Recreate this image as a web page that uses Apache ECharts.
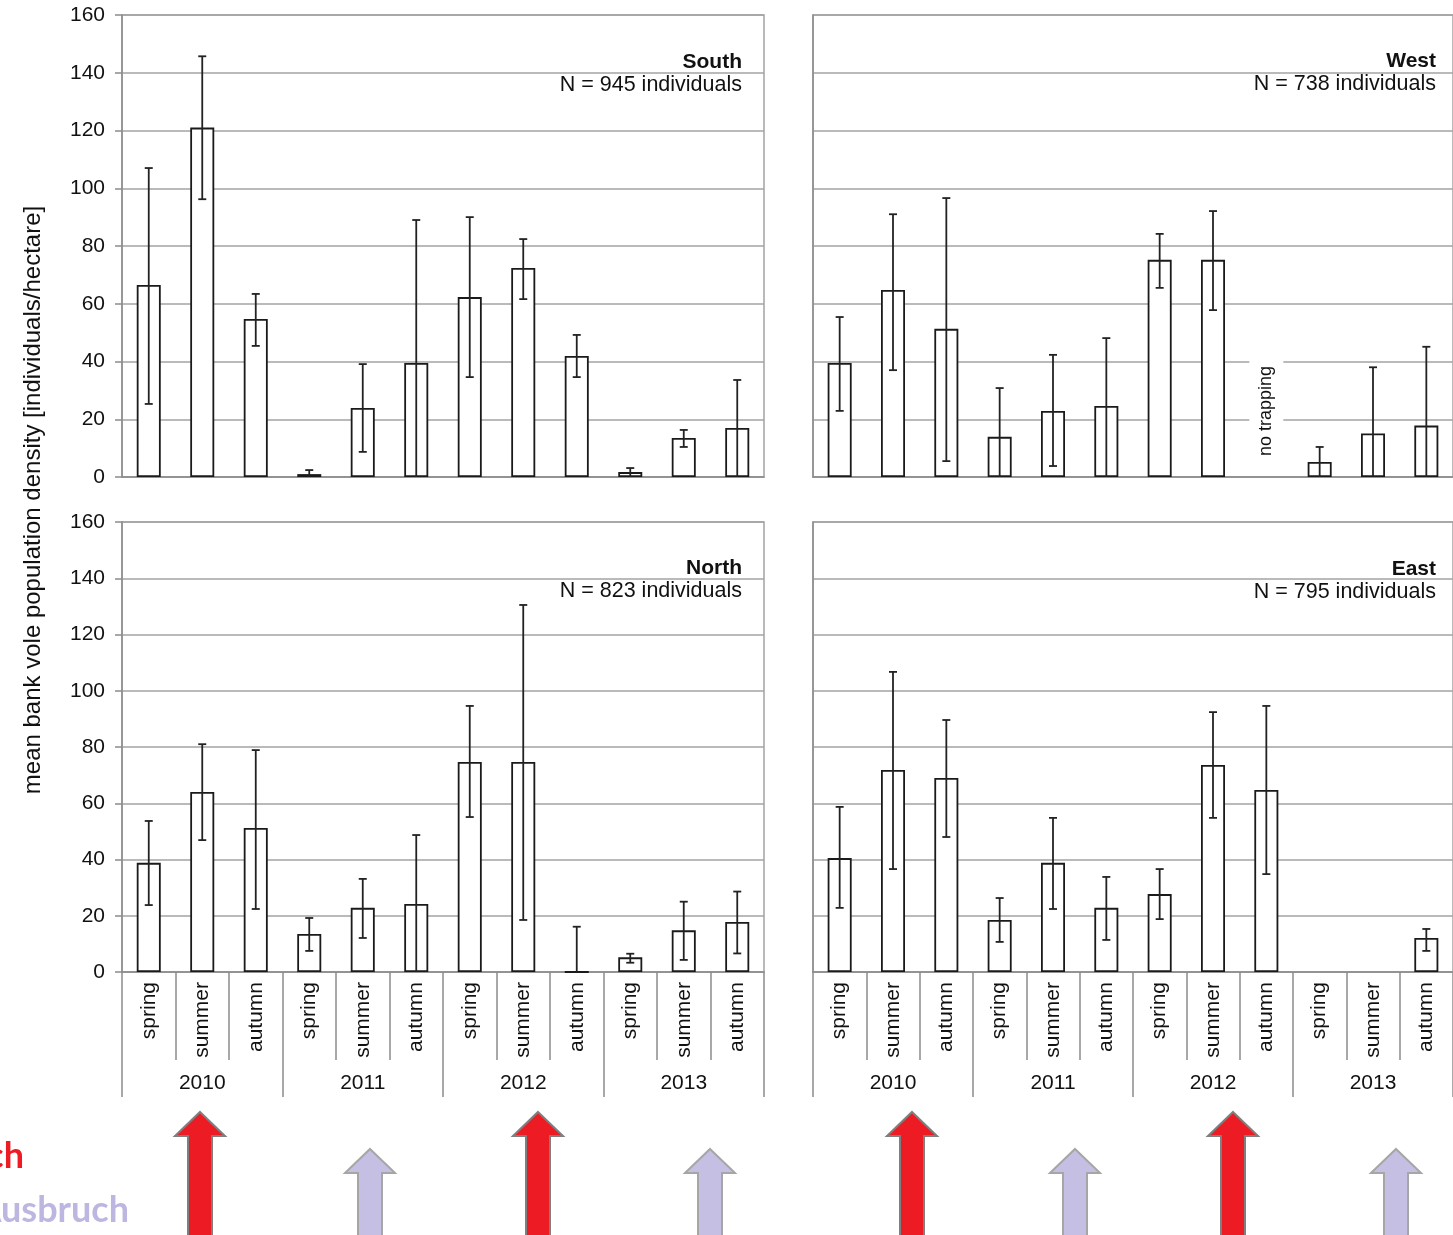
<!DOCTYPE html>
<html>
<head>
<meta charset="utf-8">
<script src="https://cdn.jsdelivr.net/npm/echarts@6/dist/echarts.min.js"></script>
<style>
  html, body { margin: 0; padding: 0; background: #fff; }
  #chart { width: 1453px; height: 1235px; }
</style>
</head>
<body>
<div id="chart"></div>
<script>
// ---- data ----
const seasons = ['spring', 'summer', 'autumn'];
const years = ['2010', '2011', '2012', '2013'];
const categories = years.flatMap(() => seasons);
const yMin = 0, yMax = 160, yStep = 20;

// South
const southMean = [66.5, 121, 54.7, 1.0, 23.9, 39.5, 62.3, 72.4, 41.9, 1.7, 13.5, 17.0];
const southLow  = [25.3, 96.2, 45.4, 0, 8.7, 0, 34.6, 61.6, 34.6, 0, 10.4, 0];
const southHigh = [107, 145.7, 63.4, 2.4, 39.1, 89, 90, 82.4, 49.2, 3.1, 16.3, 33.6];
// West (autumn 2012: no trapping)
const westMean = [39.5, 64.8, 51.3, 13.9, 22.9, 24.6, 75.2, 75.2, null, 5.2, 15.1, 17.8];
const westLow  = [22.9, 37, 5.5, 0, 3.8, 0, 65.5, 57.8, null, 0, 0, 0];
const westHigh = [55.4, 91, 96.6, 30.8, 42.3, 48.1, 84.2, 92.1, null, 10.4, 38, 45.1];
// North
const northMean = [38.8, 64, 51.2, 13.5, 22.8, 24.2, 74.7, 74.7, 0, 5.2, 14.8, 17.8];
const northLow  = [23.8, 46.9, 22.4, 7.5, 12.1, 0, 55.1, 18.5, 0, 3.3, 4.3, 6.6];
const northHigh = [53.7, 81, 78.9, 19.2, 33.1, 48.7, 94.6, 130.5, 16.1, 6.5, 25, 28.6];
// East
const eastMean = [40.5, 71.8, 69, 18.5, 38.8, 22.8, 27.7, 73.6, 64.7, null, null, 12.1];
const eastLow  = [22.8, 36.6, 48, 10.7, 22.4, 11.4, 18.8, 54.8, 34.8, null, null, 7.5];
const eastHigh = [58.7, 106.7, 89.6, 26.3, 54.8, 33.8, 36.6, 92.4, 94.6, null, null, 15.3];

const sites = ['South', 'West', 'North', 'East'];
const individuals = [945, 738, 823, 795];
const outbreakYears = [true, false, true, false];
const noTrappingAt = { site: 'West', index: 8, value: 21.5 };

const yTitle = 'mean bank vole population density [individuals/hectare]';
const legendOutbreak = 'Ausbruch';
const legendNoOutbreak = 'kein Ausbruch';

// ---- layout / style ----
const FONT = "'Liberation Sans', Arial, sans-serif";
const AXIS_GRAY = '#8c8c8c';
const GRID_GRAY = '#a3a3a3';
const TEXT = '#111111';

const panels = [
  { mean: southMean, low: southLow, high: southHigh, box: { left: 122, top: 15, width: 642, height: 462 }, bottom: false, yLabels: true, titleX: 742, titleY: 62 },
  { mean: westMean,  low: westLow,  high: westHigh,  box: { left: 813, top: 15, width: 642, height: 462 }, bottom: false, yLabels: false, titleX: 1436, titleY: 61 },
  { mean: northMean, low: northLow, high: northHigh, box: { left: 122, top: 522, width: 642, height: 450 }, bottom: true, yLabels: true, titleX: 742, titleY: 568 },
  { mean: eastMean,  low: eastLow,  high: eastHigh,  box: { left: 813, top: 522, width: 642, height: 450 }, bottom: true, yLabels: false, titleX: 1436, titleY: 569 }
];

const grid = [], xAxis = [], yAxis = [], series = [], graphic = [];

panels.forEach((p, i) => {
  grid.push(Object.assign({ show: true, borderColor: GRID_GRAY, borderWidth: 1.5, backgroundColor: 'transparent' }, p.box));

  const seasonAxis = xAxis.length;
  xAxis.push({
    type: 'category', gridIndex: i, data: categories, boundaryGap: true, position: 'bottom',
    axisLine: { show: true, lineStyle: { color: AXIS_GRAY, width: 1.5 } },
    axisTick: { show: p.bottom, interval: 0, length: 88, lineStyle: { color: AXIS_GRAY, width: 1.5 } },
    axisLabel: { show: p.bottom, interval: 0, rotate: 90, margin: 10, fontSize: 21, fontFamily: FONT, color: TEXT },
    splitLine: { show: false }
  });
  if (p.bottom) {
    xAxis.push({
      type: 'category', gridIndex: i, data: years, boundaryGap: true, position: 'bottom',
      axisLine: { show: false },
      axisTick: { show: true, interval: 0, length: 125, lineStyle: { color: AXIS_GRAY, width: 1.5 } },
      axisLabel: { show: true, interval: 0, margin: 101, fontSize: 21, fontFamily: FONT, color: TEXT },
      splitLine: { show: false }
    });
  }

  yAxis.push({
    type: 'value', gridIndex: i, min: yMin, max: yMax, interval: yStep,
    axisLine: { show: true, lineStyle: { color: AXIS_GRAY, width: 1.5 } },
    axisTick: { show: p.yLabels, length: 7, lineStyle: { color: AXIS_GRAY, width: 1.5 } },
    axisLabel: { show: p.yLabels, margin: 17, fontSize: 21, fontFamily: FONT, color: TEXT },
    splitLine: { show: true, lineStyle: { color: GRID_GRAY, width: 1.5 } }
  });

  series.push({
    type: 'bar', name: sites[i], xAxisIndex: seasonAxis, yAxisIndex: i,
    data: p.mean, barWidth: 24, silent: true, z: 2,
    itemStyle: { color: '#ffffff', borderColor: '#1a1a1a', borderWidth: 1.8 }
  });

  const errData = [];
  p.mean.forEach((m, k) => {
    if (p.low[k] != null && p.high[k] != null) errData.push([k, p.low[k], p.high[k]]);
  });
  series.push({
    type: 'custom', name: sites[i] + ' error', xAxisIndex: seasonAxis, yAxisIndex: i,
    data: errData, silent: true, z: 3,
    encode: { x: 0, y: [1, 2] },
    renderItem: (params, api) => {
      const k = api.value(0);
      const lo = api.value(1), hi = api.value(2);
      const x = api.coord([k, 0])[0];
      const yl = api.coord([k, lo])[1];
      const yh = api.coord([k, hi])[1];
      const cap = 4;
      const st = { stroke: '#222222', lineWidth: 1.8 };
      const children = [
        { type: 'line', shape: { x1: x, y1: yl, x2: x, y2: yh }, style: st },
        { type: 'line', shape: { x1: x - cap, y1: yh, x2: x + cap, y2: yh }, style: st }
      ];
      if (lo > 0) children.push({ type: 'line', shape: { x1: x - cap, y1: yl, x2: x + cap, y2: yl }, style: st });
      return { type: 'group', children };
    }
  });

  if (sites[i] === noTrappingAt.site) {
    series.push({
      type: 'scatter', name: 'no trapping', xAxisIndex: seasonAxis, yAxisIndex: i,
      data: [[noTrappingAt.index, noTrappingAt.value]], symbolSize: 0, silent: true, z: 4,
      itemStyle: { opacity: 1 },
      label: {
        show: true, position: 'inside', formatter: 'no trapping', rotate: 90, offset: [4, 0],
        fontSize: 18, fontFamily: FONT, color: '#111111', opacity: 1,
        backgroundColor: '#ffffff', padding: [8, 10]
      }
    });
  }

  // site name and sample size
  graphic.push({
    type: 'text', x: p.titleX, y: p.titleY, silent: true,
    style: { text: sites[i], font: 'bold 21px ' + FONT, fill: TEXT, align: 'right', verticalAlign: 'middle' }
  });
  graphic.push({
    type: 'text', x: p.titleX, y: p.titleY + 23, silent: true,
    style: { text: 'N = ' + individuals[i] + ' individuals', font: '21.5px ' + FONT, fill: TEXT, align: 'right', verticalAlign: 'middle' }
  });
});

// shared y axis title
graphic.push({
  type: 'text', x: 33, y: 500, rotation: Math.PI / 2, silent: true,
  style: { text: yTitle, font: '24px ' + FONT, fill: TEXT, align: 'center', verticalAlign: 'middle' }
});

// outbreak arrows below each year
const arrowCentersLeft = [200, 370, 538, 710];
const arrowCentersRight = [912, 1075, 1233, 1396];
function arrow(cx, outbreak) {
  const tip = outbreak ? 1112 : 1149;
  const base = tip + 24;
  const bottom = 1240;
  const hw = 25, sw = 12;
  return {
    type: 'polygon', silent: true,
    shape: { points: [[cx, tip], [cx + hw, base], [cx + sw, base], [cx + sw, bottom], [cx - sw, bottom], [cx - sw, base], [cx - hw, base]] },
    style: outbreak ? { fill: '#ed1c24', stroke: '#7f7f7f', lineWidth: 2 } : { fill: '#c6bfe4', stroke: '#a6a6a6', lineWidth: 2 }
  };
}
outbreakYears.forEach((ob, j) => {
  graphic.push(arrow(arrowCentersLeft[j], ob));
  graphic.push(arrow(arrowCentersRight[j], ob));
});

// legend words for the arrows
const shadow = { shadowColor: 'rgba(0,0,0,0.35)', shadowBlur: 3, shadowOffsetX: 2, shadowOffsetY: 2 };
graphic.push({
  type: 'text', x: 24, y: 1156, silent: true,
  style: Object.assign({ text: legendOutbreak, font: 'bold 36px Lato, sans-serif', fill: '#ed1c24', align: 'right', verticalAlign: 'middle' }, shadow)
});
graphic.push({
  type: 'text', x: 129, y: 1210, silent: true,
  style: Object.assign({ text: legendNoOutbreak, font: 'bold 36px Lato, sans-serif', fill: '#bdb6e0', align: 'right', verticalAlign: 'middle' }, shadow)
});

const chart = echarts.init(document.getElementById('chart'), null, { renderer: 'canvas' });
chart.setOption({
  animation: false,
  backgroundColor: '#ffffff',
  grid, xAxis, yAxis, series, graphic
});
</script>
</body>
</html>
